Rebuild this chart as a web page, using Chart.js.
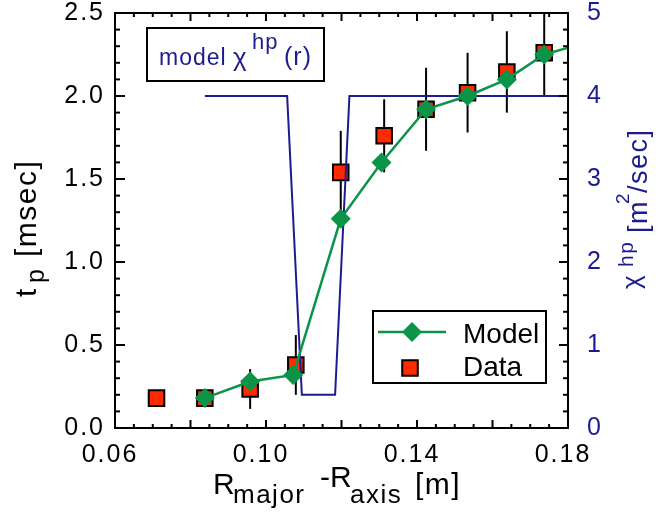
<!DOCTYPE html>
<html>
<head>
<meta charset="utf-8">
<script src="https://cdn.jsdelivr.net/npm/chart.js@4"></script>
<style>
  html, body { margin: 0; background: #fff; }
  #wrap { width: 658px; height: 516px; }
</style>
</head>
<body>
<div id="wrap"><canvas id="tp" width="658" height="516"></canvas></div>
<script>
// pulse delay t_p vs radius: measurements, model fit, and the chi^hp profile used
const dataR   = [0.0710, 0.0838, 0.0958, 0.1079, 0.1198, 0.1313, 0.1424, 0.1534, 0.1638, 0.1737];
const dataTp  = [0.18, 0.18, 0.235, 0.38, 1.54, 1.76, 1.92, 2.02, 2.145, 2.26];
const dataErr = [0.04, 0.04, 0.12, 0.18, 0.25, 0.22, 0.25, 0.24, 0.245, 0.26];

const modelR  = [0.0838, 0.0958, 0.1072, 0.1198, 0.1306, 0.1424, 0.1534, 0.1638, 0.1737, 0.1845];
const modelTp = [0.18, 0.28, 0.32, 1.26, 1.60, 1.92, 2.00, 2.10, 2.25, 2.32];

const chiR   = [0.0838, 0.1056, 0.1095, 0.1183, 0.1221, 0.18];
const chiVal = [4, 4, 0.4, 0.4, 4, 4];

const xTicks   = [0.06, 0.10, 0.14, 0.18];
const tpTicks  = [0.0, 0.5, 1.0, 1.5, 2.0, 2.5];
const chiTicks = [0, 1, 2, 3, 4, 5];

const RED = '#ff2a00';
const GREEN = '#0a9447';
const NAVY = '#1c1c8f';
const FONT = '"Liberation Sans", Arial, sans-serif';

const pts = (xs, ys) => xs.map((x, i) => ({ x, y: ys[i] }));

function seg(ctx, x1, y1, x2, y2) {
  ctx.beginPath();
  ctx.moveTo(x1, y1);
  ctx.lineTo(x2, y2);
  ctx.stroke();
}

// text runs with their own size / baseline (sub- and superscripts)
function drawRich(ctx, parts, color) {
  ctx.fillStyle = color;
  ctx.textAlign = 'left';
  ctx.textBaseline = 'alphabetic';
  for (const p of parts) {
    ctx.font = `${p.size}px ${FONT}`;
    ctx.fillText(p.t, p.x, p.y);
  }
}

// keep the plot box fixed: no extra room for half-labels at the ends
function noOverhang(s) {
  s.paddingTop = 0;
  s.paddingBottom = 0;
  s.paddingLeft = 0;
  s.paddingRight = 0;
}

const decor = {
  id: 'decor',
  beforeDraw(chart) {
    chart.ctx.letterSpacing = '2px';
  },
  beforeDatasetsDraw(chart) {
    const { ctx, chartArea: a, scales } = chart;
    ctx.save();
    ctx.beginPath();
    ctx.rect(a.left, a.top, a.right - a.left, a.bottom - a.top);
    ctx.clip();
    ctx.strokeStyle = '#000';
    ctx.lineWidth = 2;
    dataR.forEach((r, i) => {
      const px = scales.x.getPixelForValue(r);
      seg(ctx, px, scales.y.getPixelForValue(dataTp[i] - dataErr[i]),
               px, scales.y.getPixelForValue(dataTp[i] + dataErr[i]));
    });
    ctx.restore();
  },
  afterDraw(chart) {
    const { ctx, chartArea: a, scales } = chart;
    ctx.save();
    ctx.letterSpacing = '0px';
    ctx.strokeStyle = '#000';
    ctx.lineWidth = 2;

    // inward ticks on all four sides
    for (let i = 0; i <= 24; i++) {
      const px = scales.x.getPixelForValue(0.06 + i * 0.005);
      const len = i % 4 === 0 ? 8 : 4;
      seg(ctx, px, a.bottom, px, a.bottom - len);
      seg(ctx, px, a.top, px, a.top + len);
    }
    for (let i = 0; i <= 25; i++) {
      const py = scales.y.getPixelForValue(i * 0.1);
      seg(ctx, a.left, py, a.left + (i % 5 === 0 ? 10 : 5), py);
      const qy = scales.y2.getPixelForValue(i * 0.2);
      seg(ctx, a.right, qy, a.right - (i % 5 === 0 ? 9 : 5), qy);
    }
    ctx.strokeRect(a.left, a.top, a.right - a.left, a.bottom - a.top);

    // chi^hp label box
    ctx.fillStyle = '#fff';
    ctx.fillRect(147, 28, 177, 53);
    ctx.strokeRect(147, 28, 177, 53);
    ctx.letterSpacing = '1px';
    drawRich(ctx, [
      { t: 'model', x: 159, y: 65, size: 23 },
      { t: 'χ', x: 233, y: 66, size: 26 },
      { t: 'hp', x: 252, y: 49, size: 22 },
      { t: '(r)', x: 284, y: 65, size: 25 },
    ], NAVY);
    ctx.letterSpacing = '0px';

    // legend
    ctx.fillStyle = '#fff';
    ctx.fillRect(373, 311, 173, 72);
    ctx.strokeRect(373, 311, 173, 72);
    ctx.strokeStyle = GREEN;
    ctx.lineWidth = 2.5;
    seg(ctx, 378, 332, 446, 332);
    ctx.fillStyle = GREEN;
    Chart.helpers.drawPoint(ctx, { pointStyle: 'rectRot', radius: 10, rotation: 0, borderWidth: 0 }, 412, 332);
    ctx.fillStyle = RED;
    ctx.strokeStyle = '#000';
    ctx.lineWidth = 2;
    Chart.helpers.drawPoint(ctx, { pointStyle: 'rect', radius: 11, rotation: 0, borderWidth: 2 }, 410, 368);
    drawRich(ctx, [
      { t: 'Model', x: 463, y: 343, size: 28 },
      { t: 'Data', x: 463, y: 376, size: 28 },
    ], '#000');

    // axis titles
    ctx.letterSpacing = '1.5px';
    drawRich(ctx, [
      { t: 'R', x: 213, y: 494, size: 30 },
      { t: 'major', x: 233, y: 503, size: 26 },
      { t: '-', x: 320, y: 487, size: 30 },
      { t: 'R', x: 330, y: 487, size: 30 },
      { t: 'axis', x: 350, y: 503, size: 26 },
      { t: '[m]', x: 415, y: 494, size: 30 },
    ], '#000');

    ctx.save();
    ctx.translate(36, 297);
    ctx.rotate(-Math.PI / 2);
    drawRich(ctx, [
      { t: 't', x: 0, y: 0, size: 30 },
      { t: 'p', x: 14, y: 8, size: 25 },
      { t: '[msec]', x: 40, y: 0, size: 30 },
    ], '#000');
    ctx.restore();

    ctx.save();
    ctx.translate(647, 291);
    ctx.rotate(-Math.PI / 2);
    drawRich(ctx, [
      { t: 'χ', x: 2, y: -7, size: 26 },
      { t: 'hp', x: 24, y: -14, size: 21 },
      { t: '[m', x: 58, y: 0, size: 27 },
      { t: '2', x: 87, y: -18, size: 19 },
      { t: '/sec]', x: 98, y: 0, size: 27 },
    ], NAVY);
    ctx.restore();

    ctx.restore();
  }
};

const tickFont = { family: FONT, size: 25 };

new Chart(document.getElementById('tp'), {
  type: 'scatter',
  data: {
    datasets: [
      {
        label: 'Model',
        data: pts(modelR, modelTp),
        showLine: true,
        borderColor: GREEN,
        borderWidth: 2.5,
        backgroundColor: GREEN,
        pointStyle: 'rectRot',
        pointRadius: modelR.map(r => (r > 0.18 ? 0 : 10)),
        pointBorderWidth: 0,
        yAxisID: 'y',
        clip: 0,
        order: 0
      },
      {
        label: 'chi',
        data: pts(chiR, chiVal),
        showLine: true,
        borderColor: NAVY,
        borderWidth: 2,
        pointRadius: 0,
        yAxisID: 'y2',
        clip: 0,
        order: 1
      },
      {
        label: 'Data',
        data: pts(dataR, dataTp),
        showLine: false,
        backgroundColor: RED,
        borderColor: '#000',
        pointStyle: 'rect',
        pointRadius: 11,
        pointBorderWidth: 2,
        yAxisID: 'y',
        clip: 0,
        order: 2
      }
    ]
  },
  options: {
    responsive: false,
    animation: false,
    events: [],
    layout: { padding: { top: 13, left: 0, right: 0, bottom: 0 } },
    plugins: { legend: { display: false }, tooltip: { enabled: false } },
    scales: {
      x: {
        type: 'linear',
        min: 0.06, max: 0.18,
        grid: { display: false, drawTicks: false },
        border: { display: false },
        afterBuildTicks: s => { s.ticks = xTicks.map(v => ({ value: v })); },
        afterFit: s => { s.height = 88; noOverhang(s); },
        ticks: { font: tickFont, color: '#000', padding: 12, labelOffset: -5, maxRotation: 0,
                 callback: v => v.toFixed(2) }
      },
      y: {
        position: 'left',
        min: 0, max: 2.5,
        grid: { display: false, drawTicks: false },
        border: { display: false },
        afterBuildTicks: s => { s.ticks = tpTicks.map(v => ({ value: v })); },
        afterFit: s => { s.width = 115; noOverhang(s); },
        ticks: { font: tickFont, color: '#000', padding: 10, callback: v => v.toFixed(1) }
      },
      y2: {
        position: 'right',
        min: 0, max: 5,
        grid: { display: false, drawTicks: false },
        border: { display: false },
        afterBuildTicks: s => { s.ticks = chiTicks.map(v => ({ value: v })); },
        afterFit: s => { s.width = 90; noOverhang(s); },
        ticks: { font: tickFont, color: NAVY, padding: 19, callback: v => String(v) }
      }
    }
  },
  plugins: [decor]
});
</script>
</body>
</html>
